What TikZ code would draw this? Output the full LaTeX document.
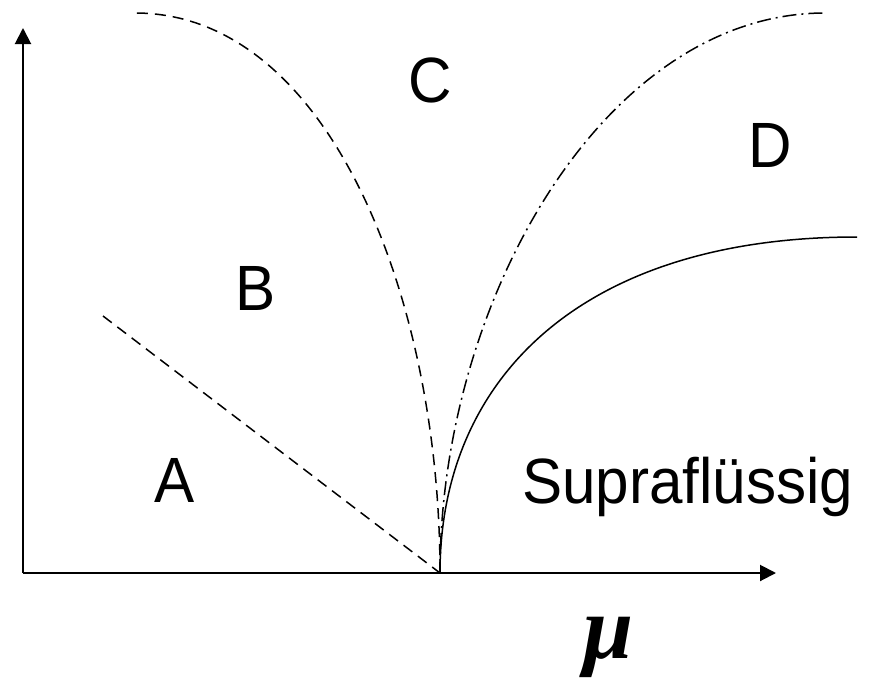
\documentclass[tikz,border=0pt]{standalone}
\usepackage{fontspec}
\setmainfont{Liberation Sans}[FakeStretch=0.94]
\newfontfamily\muserif{Liberation Serif}
\usetikzlibrary{arrows.meta}
\tikzset{
  axis/.style={line width=2pt,-{Triangle[length=16pt,width=16pt]}},
  curve/.style={line width=1.5pt},
  dashcurve/.style={curve,dash pattern=on 11pt off 7pt},
  dotdash/.style={curve,dash pattern=on 14pt off 5pt on 2pt off 5pt},
  lbl/.style={anchor=base,inner sep=0pt,font=\fontsize{64}{64}\selectfont}
}
\begin{document}
\begin{tikzpicture}[x=1pt,y=-1pt]
\useasboundingbox (0,0) rectangle (873,683);
\coordinate (O) at (23,573);
\coordinate (ytop) at (23,28);
\coordinate (xend) at (776,573);
\coordinate (P) at (440,573);
\coordinate (a1) at (103,316);
\coordinate (b1) at (135,13);
\coordinate (c1) at (825,13);
\coordinate (d1) at (857,237);
\draw[axis] (O) -- (ytop);
\draw[axis] (O) -- (xend);
\draw[dashcurve] (a1) -- (P);
\draw[dashcurve] (P) .. controls (440,300) and (330,13) .. (b1);
\draw[dotdash] (P) .. controls (440,300) and (605,13) .. (c1);
\draw[curve] (P) .. controls (440,380) and (580,237) .. (d1);
\node[lbl] (A) at (175,502) {A};
\node[lbl] (B) at (256,310) {B};
\node[lbl] (C) at (430,102) {C};
\node[lbl] (D) at (770,167) {D};
\node[lbl,anchor=base west] (S) at (522,503) {Supraflüssig};
\node[anchor=base,inner sep=0pt,font=\fontsize{90}{90}\selectfont\muserif\bfseries\itshape] (mu) at (609,658) {μ};
\end{tikzpicture}
\end{document}
